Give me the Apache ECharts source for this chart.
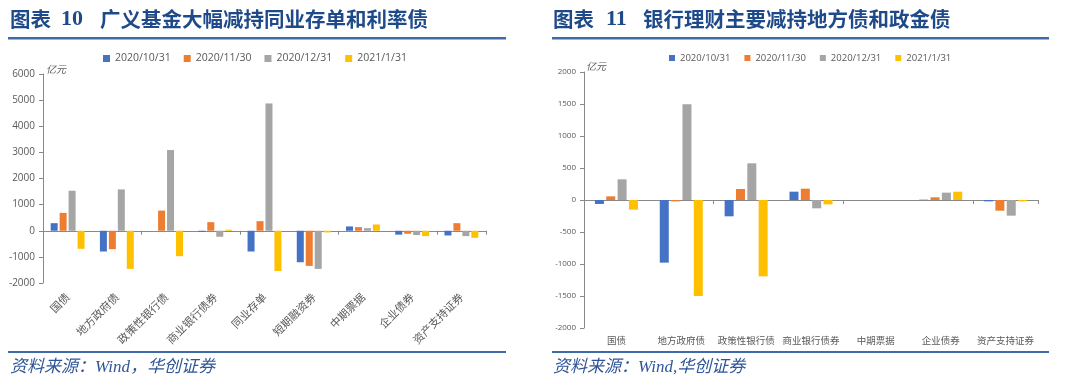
<!DOCTYPE html>
<html><head><meta charset="utf-8">
<script src="https://cdn.jsdelivr.net/npm/echarts@6/dist/echarts.min.js"></script>
<style>html,body{margin:0;padding:0;background:#fff}#c{width:1080px;height:391px}</style>
</head><body><div id="c"></div>
<script>
const seriesNames = ['2020/10/31','2020/11/30','2020/12/31','2021/1/31'];
const colors = ['#4472C4','#ED7D31','#A5A5A5','#FFC000'];

// Chart 10
const catsL = ['国债','地方政府债','政策性银行债','商业银行债券','同业存单','短期融资券','中期票据','企业债券','资产支持证券'];
const L_1031 = [290,-795,0,-40,-795,-1205,165,-150,-180];
const L_1130 = [684,-705,772,329,367,-1346,140,-115,290];
const L_1231 = [1532,1582,3089,-230,4873,-1460,100,-165,-205];
const L_0131 = [-692,-1460,-974,40,-1540,-65,240,-205,-270];
const yTicksL = {min:-2000, max:6000, interval:1000};

// Chart 11
const catsR = ['国债','地方政府债','政策性银行债','商业银行债券','中期票据','企业债券','资产支持证券'];
const R_1031 = [-62,-979,-255,130,0,5,-21];
const R_1130 = [57,-21,172,177,0,42,-167];
const R_1231 = [323,1495,573,-130,0,115,-245];
const R_0131 = [-151,-1500,-1193,-68,0,130,-21];
const yTicksR = {min:-2000, max:2000, interval:500};

const L = [L_1031,L_1130,L_1231,L_0131];
const R = [R_1031,R_1130,R_1231,R_0131];

const axisGray = '#898989';
const labelGray = '#595959';
const titleBlue = '#1F4A8A';
const ruleBlue = '#3E6BA8';
const cjk = '"Noto Sans CJK SC", sans-serif';
const serifCjk = '"Liberation Serif", "Noto Sans CJK SC", serif';

const chart = echarts.init(document.getElementById('c'), null, {renderer:'canvas'});

function xAxesFor(gi, cats, fontSize, rotate){
  return [
    {gridIndex:gi, type:'category', data:cats,
     axisLine:{onZero:true, lineStyle:{color:axisGray, width:1}},
     axisTick:{show:true, alignWithLabel:false, length:4, lineStyle:{color:axisGray}},
     axisLabel:{show:false}},
    {gridIndex:gi, type:'category', data:cats, position:'bottom',
     axisLine:{show:false, onZero:false}, axisTick:{show:false},
     axisLabel:{show:true, interval:0, rotate:rotate, fontSize:fontSize, color:labelGray, fontFamily:cjk, margin: rotate? 12 : 8}}
  ];
}

const series = [];
for (let i=0;i<4;i++){
  series.push({name:seriesNames[i], type:'bar', xAxisIndex:0, yAxisIndex:0, data:L[i],
    itemStyle:{color:colors[i]}, barWidth:7, barGap:'28%', barCategoryGap:'30%'});
}
for (let i=0;i<4;i++){
  series.push({name:seriesNames[i], type:'bar', xAxisIndex:2, yAxisIndex:1, data:R[i],
    itemStyle:{color:colors[i]}, barWidth:9, barGap:'26%', barCategoryGap:'32%'});
}

const plain = v => String(v);

const option = {
  animation:false,
  color: colors,
  grid:[
    {left:43, right:594, top:74, bottom:108, containLabel:false},
    {left:584, right:42, top:72, bottom:63, containLabel:false}
  ],
  legend:[
    {data:seriesNames, left:98, top:48, itemWidth:7, itemHeight:7, itemGap:13, icon:'rect',
     textStyle:{fontSize:10.5, color:labelGray, fontFamily:'"Open Sans", sans-serif'}},
    {data:seriesNames, left:664, top:48, itemWidth:6, itemHeight:6, itemGap:14, icon:'rect',
     textStyle:{fontSize:9.5, color:labelGray, fontFamily:'"Open Sans", sans-serif'}}
  ],
  xAxis:[...xAxesFor(0, catsL, 11, 45), ...xAxesFor(1, catsR, 9.5, 0)],
  yAxis:[
    {gridIndex:0, type:'value', min:yTicksL.min, max:yTicksL.max, interval:yTicksL.interval,
     axisLine:{show:true, lineStyle:{color:axisGray}}, axisTick:{show:true, length:4, lineStyle:{color:axisGray}},
     splitLine:{show:false}, axisLabel:{formatter:plain, fontSize:10, color:labelGray, margin:8, fontFamily:'"Open Sans", sans-serif'}},
    {gridIndex:1, type:'value', min:yTicksR.min, max:yTicksR.max, interval:yTicksR.interval,
     axisLine:{show:true, lineStyle:{color:axisGray}}, axisTick:{show:true, length:4, lineStyle:{color:axisGray}},
     splitLine:{show:false}, axisLabel:{formatter:plain, fontSize:8, color:labelGray, margin:8, fontFamily:'"Open Sans", sans-serif'}}
  ],
  series: series,
  graphic:[
    // Left title
    {type:'text', left:10, top:9, style:{text:'图表', font:'bold 20.5px '+cjk, fill:titleBlue}},
    {type:'text', left:61, top:8, style:{text:'10', font:'bold 22px '+serifCjk, fill:titleBlue}},
    {type:'text', left:100, top:9, style:{text:'广义基金大幅减持同业存单和利率债', font:'bold 20.5px '+cjk, fill:titleBlue}},
    {type:'rect', shape:{x:8, y:37, width:498, height:2.5}, style:{fill:ruleBlue}},
    // Right title
    {type:'text', left:553, top:9, style:{text:'图表', font:'bold 20.5px '+cjk, fill:titleBlue}},
    {type:'text', left:606, top:8, style:{text:'11', font:'bold 22px '+serifCjk, fill:titleBlue}},
    {type:'text', left:643, top:9, style:{text:'银行理财主要减持地方债和政金债', font:'bold 20.5px '+cjk, fill:titleBlue}},
    {type:'rect', shape:{x:552, y:37, width:497, height:2.5}, style:{fill:ruleBlue}},
    // Units
    {type:'text', left:46, top:64, style:{text:'亿元', font:'italic 10px '+cjk, fill:labelGray}},
    {type:'text', left:586, top:61, style:{text:'亿元', font:'italic 10px '+cjk, fill:labelGray}},
    // Footers
    {type:'rect', shape:{x:8, y:351, width:498, height:2}, style:{fill:ruleBlue}},
    {type:'rect', shape:{x:552, y:351, width:497, height:2}, style:{fill:ruleBlue}},
    {type:'text', left:10, top:359, style:{text:'资料来源：Wind，华创证券', font:'italic 17px '+serifCjk, fill:'#2F5597'}},
    {type:'text', left:553, top:359, style:{text:'资料来源：Wind,华创证券', font:'italic 17px '+serifCjk, fill:'#2F5597'}}
  ]
};
chart.setOption(option);
</script></body></html>
